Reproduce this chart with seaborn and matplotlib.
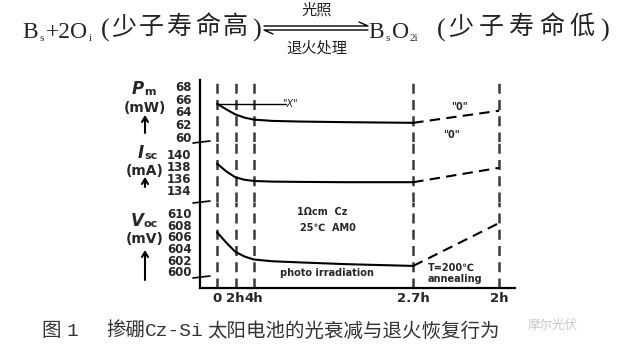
import matplotlib
matplotlib.use("Agg")
import matplotlib.pyplot as plt
import seaborn as sns
from matplotlib.lines import Line2D

# broken time axis: positions of the labelled instants
tick_pos = [0, 2, 4, 21.2, 30.5]
tick_labels = ["0", "2h", "4h", "2.7h", "2h"]

# light soaking (solid curves)
t_light = [0, 1, 2, 3, 4, 6, 9, 14, 21.2]
pm_light = [65.2, 64.3, 63.5, 63.0, 62.7, 62.5, 62.4, 62.3, 62.2]
isc_light = [138.4, 137.1, 136.1, 135.7, 135.5, 135.4, 135.35, 135.3, 135.3]
voc_light = [606.7, 604.9, 603.3, 602.5, 602.0, 601.7, 601.5, 601.2, 600.9]

# annealing at 200C (dashed curves)
t_anneal = [21.2, 30.5]
pm_anneal = [62.2, 64.1]
isc_anneal = [135.3, 137.7]
voc_anneal = [600.9, 608.3]

# "X" reference level of Pm
t_x = [0, 7.5]
pm_x = [65.2, 65.2]

pm_ticks = [60, 62, 64, 66, 68]
isc_ticks = [134, 136, 138, 140]
voc_ticks = [600, 602, 604, 606, 608, 610]

sns.set_style("white")
plt.rcParams["font.family"] = ["DejaVu Sans", "Noto Sans CJK SC"]

W, H = 623, 353
fig = plt.figure(figsize=(W / 100, H / 100), dpi=100)


def fx(x):
    return x / W


def fy(y):
    return 1 - y / H


def add_panel(top, bottom, ylim, ticks):
    ax = fig.add_axes([fx(200), fy(bottom), fx(515) - fx(200), (bottom - top) / H])
    ax.set_xlim(-1.84, 32.2)
    ax.set_ylim(*ylim)
    ax.set_yticks(ticks)
    ax.set_yticklabels([str(t) for t in ticks], fontsize=8.5, fontweight="bold")
    ax.tick_params(axis="y", direction="in", length=4, width=1, pad=6)
    for s in ["top", "right", "bottom"]:
        ax.spines[s].set_visible(False)
    ax.spines["left"].set_linewidth(1.6)
    ax.spines["left"].set_color("black")
    ax.set_xticks([])
    for p in tick_pos:
        ax.axvline(p, color="#3a3a3a", lw=1.8, ls=(0, (4, 2.5)), zorder=1)
    ax.set_facecolor("none")
    return ax


ax_pm = add_panel(80, 142, (59.2, 68.9), pm_ticks)
ax_isc = add_panel(142, 202, (132.0, 142.0), isc_ticks)
ax_voc = add_panel(202, 288, (597.1, 611.9), voc_ticks)

ax_voc.spines["bottom"].set_visible(True)
ax_voc.spines["bottom"].set_linewidth(1.6)
ax_voc.spines["bottom"].set_color("black")
ax_voc.set_xticks(tick_pos)
ax_voc.set_xticklabels(tick_labels, fontsize=9.5, fontweight="bold")
ax_voc.tick_params(axis="x", length=0, pad=3)

for ax, yl, ya in [(ax_pm, pm_light, pm_anneal), (ax_isc, isc_light, isc_anneal), (ax_voc, voc_light, voc_anneal)]:
    sns.lineplot(x=t_light, y=yl, ax=ax, color="black", lw=1.5, zorder=3)
    sns.lineplot(x=t_anneal, y=ya, ax=ax, color="black", lw=1.5, zorder=3,
                 linestyle=(0, (5, 3)))
    ax.set_xlabel("")
    ax.set_ylabel("")

sns.lineplot(x=t_x, y=pm_x, ax=ax_pm, color="black", lw=1.0, zorder=3)

# axis break marks
for y in [142, 202, 277]:
    fig.add_artist(Line2D([fx(193), fx(210)], [fy(y + 1), fy(y - 1)], color="black", lw=1.2))

# y axis titles: italic symbol, subscript, unit, arrow
ytitles = [("P", "m", "(mW)", 89, 108, (133, 117)),
           ("I", "sc", "(mA)", 153, 171, (187, 179)),
           ("V", "oc", "(mV)", 221, 239, (280, 252))]
for sym, sub, unit, ys, yu, (a0, a1) in ytitles:
    fig.text(fx(144), fy(ys), sym, fontsize=12, fontweight="bold", style="italic", ha="right", va="center")
    fig.text(fx(144), fy(ys + 3), sub, fontsize=8, fontweight="bold", ha="left", va="center")
    fig.text(fx(145), fy(yu), unit, fontsize=10, fontweight="bold", ha="center", va="center")
    fig.add_artist(Line2D([fx(145), fx(145)], [fy(a0), fy(a1)], color="black", lw=1.5))
    fig.add_artist(Line2D([fx(142), fx(145), fx(148)], [fy(a1 + 5), fy(a1), fy(a1 + 5)], color="black", lw=1.5))

# annotations inside the plot
fig.text(fx(290), fy(104), '"X"', fontsize=7, style="italic", ha="center", va="center")
fig.text(fx(460), fy(107), '"0"', fontsize=7, fontweight="bold", ha="center", va="center")
fig.text(fx(451), fy(135), '"0"', fontsize=7, fontweight="bold", ha="center", va="center")
fig.text(fx(297), fy(212), "1Ωcm  Cz", fontsize=7, fontweight="bold", ha="left", va="center")
fig.text(fx(300), fy(228), "25℃  AM0", fontsize=7, fontweight="bold", ha="left", va="center")
fig.text(fx(280), fy(273), "photo irradiation", fontsize=7, fontweight="bold", ha="left", va="center")
fig.text(fx(428), fy(268), "T=200℃", fontsize=7, fontweight="bold", ha="left", va="center")
fig.text(fx(428), fy(279), "annealing", fontsize=7, fontweight="bold", ha="left", va="center")

# reaction equation at the top
serif = ["Liberation Serif"]
cjk = ["Noto Sans CJK SC"]
base = fy(38)
eq_pieces = [
    (22, "B", 17, 0), (39, "s", 8, -3), (46, "+2O", 17, 0), (89, "i", 8, -3),
    (368, "B", 17, 0), (385, "s", 8, -3), (392, "O", 17, 0), (410, "2i", 8, -3),
]
for x, s, size, dy in eq_pieces:
    fig.text(fx(x), base + dy / H, s, fontsize=size, family=serif, ha="left", va="baseline")
for x0, x1, word in [(101, 252, "少子寿命高"), (437, 600, "少子寿命低")]:
    fig.text(fx(x0), base + 1 / H, "(", fontsize=19, family=serif, ha="left", va="baseline", color="#222222")
    fig.text(fx(x1), base + 1 / H, ")", fontsize=19, family=serif, ha="left", va="baseline", color="#222222")
    pitch = (x1 - x0 - 12) / 5
    for i, ch in enumerate(word):
        fig.text(fx(x0 + 9 + pitch * (i + 0.5)), fy(27), ch, fontsize=18, family=cjk,
                 ha="center", va="center", color="#222222")
fig.text(fx(317), fy(10), "光照", fontsize=11, family=cjk, ha="center", va="center", color="#222222")
fig.text(fx(317), fy(48), "退火处理", fontsize=11, family=cjk, ha="center", va="center", color="#222222")
fig.add_artist(Line2D([fx(264), fx(368), fx(359)], [fy(26), fy(26), fy(22)], color="black", lw=1))
fig.add_artist(Line2D([fx(368), fx(264), fx(273)], [fy(30), fy(30), fy(34)], color="black", lw=1))

# caption
cap_color = "#333333"
cap_y = fy(331)
fig.text(fx(41), cap_y, "图", fontsize=14, family=cjk, ha="left", va="center", color=cap_color)
fig.text(fx(67), cap_y, "1", fontsize=14, family=["Liberation Mono"], ha="left", va="center", color=cap_color)
fig.text(fx(106), cap_y, "掺硼", fontsize=14, family=cjk, ha="left", va="center", color=cap_color)
fig.text(fx(145), cap_y, "Cz-Si", fontsize=14, family=["Liberation Mono"], ha="left", va="center", color=cap_color)
fig.text(fx(207), cap_y, "太阳电池的光衰减与退火恢复行为", fontsize=14, family=cjk,
         ha="left", va="center", color=cap_color)
fig.text(fx(528), fy(325), "摩尔光伏", fontsize=9, family=cjk, ha="left", va="center", color="#c8c8c8")

fig.savefig("out.png", dpi=100)
